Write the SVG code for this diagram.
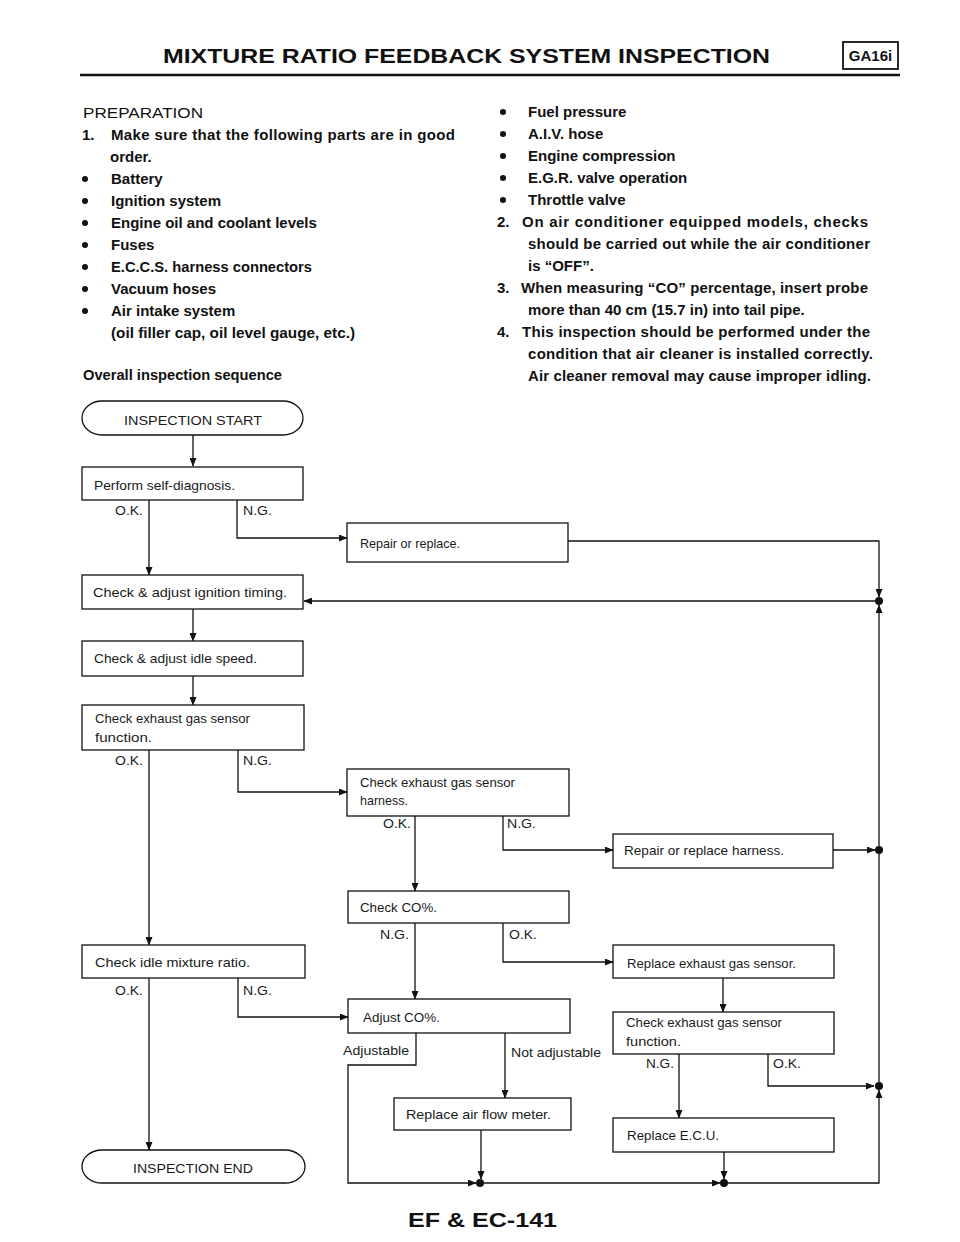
<svg xmlns="http://www.w3.org/2000/svg" width="960" height="1242" viewBox="0 0 960 1242">
<style>
.b{font-family:"Liberation Sans",Arial,sans-serif;font-weight:bold;font-size:15px;fill:#111}
.r{font-family:"Liberation Sans",Arial,sans-serif;font-size:15px;fill:#111}
.f{font-family:"Liberation Sans",Arial,sans-serif;font-size:13.5px;fill:#1a1a1a}
.box{fill:#fff;stroke:#111;stroke-width:1.3}
.ln{fill:none;stroke:#111;stroke-width:1.3}
.dot{fill:#111}
</style>
<defs>
<marker id="ah" markerWidth="9" markerHeight="7" refX="8" refY="3.5" orient="auto" markerUnits="userSpaceOnUse">
<path d="M0,0 L8.5,3.5 L0,7 z" fill="#111"/>
</marker>
</defs>
<rect width="960" height="1242" fill="#fff"/>

<g id="header">
<text x="163" y="63" class="b" style="font-size:21px" textLength="607" lengthAdjust="spacingAndGlyphs">MIXTURE RATIO FEEDBACK SYSTEM INSPECTION</text>
<rect x="843" y="42" width="55" height="27" fill="none" stroke="#111" stroke-width="1.8"/>
<text x="870.5" y="61" class="b" text-anchor="middle" style="font-size:15px">GA16i</text>
<line x1="80" y1="75" x2="900" y2="75" stroke="#111" stroke-width="2.5"/>
</g>

<g id="text-left">
<text x="83" y="118" class="r" textLength="120" lengthAdjust="spacingAndGlyphs">PREPARATION</text>
<text x="82" y="140" class="b">1.</text>
<text x="111" y="140" class="b" textLength="344" lengthAdjust="spacing">Make sure that the following parts are in good</text>
<text x="110" y="162" class="b">order.</text>
<circle cx="85" cy="179" r="3" class="dot"/><text x="111" y="184" class="b">Battery</text>
<circle cx="85" cy="201" r="3" class="dot"/><text x="111" y="206" class="b">Ignition system</text>
<circle cx="85" cy="223" r="3" class="dot"/><text x="111" y="228" class="b">Engine oil and coolant levels</text>
<circle cx="85" cy="245" r="3" class="dot"/><text x="111" y="250" class="b">Fuses</text>
<circle cx="85" cy="267" r="3" class="dot"/><text x="111" y="272" class="b" textLength="201" lengthAdjust="spacingAndGlyphs">E.C.C.S. harness connectors</text>
<circle cx="85" cy="289" r="3" class="dot"/><text x="111" y="294" class="b">Vacuum hoses</text>
<circle cx="85" cy="311" r="3" class="dot"/><text x="111" y="316" class="b">Air intake system</text>
<text x="111" y="338" class="b" textLength="244" lengthAdjust="spacingAndGlyphs">(oil filler cap, oil level gauge, etc.)</text>
<text x="83" y="380" class="b" textLength="199" lengthAdjust="spacingAndGlyphs">Overall inspection sequence</text>
</g>

<g id="text-right">
<circle cx="503" cy="112" r="3" class="dot"/><text x="528" y="117" class="b">Fuel pressure</text>
<circle cx="503" cy="134" r="3" class="dot"/><text x="528" y="139" class="b">A.I.V. hose</text>
<circle cx="503" cy="156" r="3" class="dot"/><text x="528" y="161" class="b">Engine compression</text>
<circle cx="503" cy="178" r="3" class="dot"/><text x="528" y="183" class="b">E.G.R. valve operation</text>
<circle cx="503" cy="200" r="3" class="dot"/><text x="528" y="205" class="b">Throttle valve</text>
<text x="497" y="227" class="b">2.</text>
<text x="522" y="227" class="b" textLength="346" lengthAdjust="spacing">On air conditioner equipped models, checks</text>
<text x="528" y="249" class="b" textLength="342" lengthAdjust="spacing">should be carried out while the air conditioner</text>
<text x="528" y="271" class="b">is “OFF”.</text>
<text x="497" y="293" class="b">3.</text>
<text x="521" y="293" class="b" textLength="347" lengthAdjust="spacing">When measuring “CO” percentage, insert probe</text>
<text x="528" y="315" class="b">more than 40 cm (15.7 in) into tail pipe.</text>
<text x="497" y="337" class="b">4.</text>
<text x="522" y="337" class="b" textLength="348" lengthAdjust="spacing">This inspection should be performed under the</text>
<text x="528" y="359" class="b" textLength="345" lengthAdjust="spacing">condition that air cleaner is installed correctly.</text>
<text x="528" y="381" class="b" textLength="343" lengthAdjust="spacing">Air cleaner removal may cause improper idling.</text>
</g>

<g id="connectors">
<path class="ln" d="M193,435 V466" marker-end="url(#ah)"/>
<path class="ln" d="M149,500 V575" marker-end="url(#ah)"/>
<path class="ln" d="M237,500 V538 H347" marker-end="url(#ah)"/>
<path class="ln" d="M568,541 H879 V597" marker-end="url(#ah)"/>
<path class="ln" d="M879,846 V605" marker-end="url(#ah)"/>
<path class="ln" d="M875,601 H304" marker-end="url(#ah)"/>
<path class="ln" d="M193,609 V641" marker-end="url(#ah)"/>
<path class="ln" d="M193,676 V705" marker-end="url(#ah)"/>
<path class="ln" d="M149,750 V945" marker-end="url(#ah)"/>
<path class="ln" d="M238,750 V792 H347" marker-end="url(#ah)"/>
<path class="ln" d="M415,816 V891" marker-end="url(#ah)"/>
<path class="ln" d="M503,816 V850 H613" marker-end="url(#ah)"/>
<path class="ln" d="M833,850 H875" marker-end="url(#ah)"/>
<path class="ln" d="M503,923 V962 H613" marker-end="url(#ah)"/>
<path class="ln" d="M415,923 V999" marker-end="url(#ah)"/>
<path class="ln" d="M723,978 V1012" marker-end="url(#ah)"/>
<path class="ln" d="M149,978 V1150" marker-end="url(#ah)"/>
<path class="ln" d="M238,978 V1017 H348" marker-end="url(#ah)"/>
<path class="ln" d="M416,1033 V1065 H348 V1183 H476" marker-end="url(#ah)"/>
<path class="ln" d="M505,1033 V1098" marker-end="url(#ah)"/>
<path class="ln" d="M481,1130 V1179" marker-end="url(#ah)"/>
<path class="ln" d="M484,1183 H720" marker-end="url(#ah)"/>
<path class="ln" d="M724,1152 V1179" marker-end="url(#ah)"/>
<path class="ln" d="M728,1183 H879 V1090" marker-end="url(#ah)"/>
<path class="ln" d="M679,1054 V1118" marker-end="url(#ah)"/>
<path class="ln" d="M768,1054 V1086 H874" marker-end="url(#ah)"/>
<path class="ln" d="M879,1082 V854"/>
<circle cx="879" cy="601" r="4" class="dot"/>
<circle cx="879" cy="850" r="4" class="dot"/>
<circle cx="879" cy="1086" r="4" class="dot"/>
<circle cx="480" cy="1183" r="4" class="dot"/>
<circle cx="724" cy="1183" r="4" class="dot"/>
<text x="115" y="515" class="f" textLength="28" lengthAdjust="spacingAndGlyphs">O.K.</text>
<text x="243" y="515" class="f" textLength="29" lengthAdjust="spacingAndGlyphs">N.G.</text>
<text x="115" y="765" class="f" textLength="28" lengthAdjust="spacingAndGlyphs">O.K.</text>
<text x="243" y="765" class="f" textLength="29" lengthAdjust="spacingAndGlyphs">N.G.</text>
<text x="383" y="828" class="f" textLength="28" lengthAdjust="spacingAndGlyphs">O.K.</text>
<text x="507" y="828" class="f" textLength="29" lengthAdjust="spacingAndGlyphs">N.G.</text>
<text x="380" y="939" class="f" textLength="29" lengthAdjust="spacingAndGlyphs">N.G.</text>
<text x="509" y="939" class="f" textLength="28" lengthAdjust="spacingAndGlyphs">O.K.</text>
<text x="115" y="995" class="f" textLength="28" lengthAdjust="spacingAndGlyphs">O.K.</text>
<text x="243" y="995" class="f" textLength="29" lengthAdjust="spacingAndGlyphs">N.G.</text>
<text x="343" y="1055" class="f" textLength="66" lengthAdjust="spacingAndGlyphs">Adjustable</text>
<text x="511" y="1057" class="f" textLength="90" lengthAdjust="spacingAndGlyphs">Not adjustable</text>
<text x="646" y="1068" class="f" textLength="28" lengthAdjust="spacingAndGlyphs">N.G.</text>
<text x="773" y="1068" class="f" textLength="28" lengthAdjust="spacingAndGlyphs">O.K.</text>
</g>

<g id="n-start">
<rect x="82" y="401" width="221" height="34" rx="20" ry="17" class="box"/>
<text x="124" y="425" class="f" textLength="138" lengthAdjust="spacingAndGlyphs">INSPECTION START</text>
</g>
<g id="n-selfdiag">
<rect x="82" y="467" width="221" height="33" class="box"/>
<text x="94" y="490" class="f" textLength="141" lengthAdjust="spacingAndGlyphs">Perform self-diagnosis.</text>
</g>
<g id="n-repair">
<rect x="347" y="523" width="221" height="39" class="box"/>
<text x="360" y="548" class="f" textLength="100" lengthAdjust="spacingAndGlyphs">Repair or replace.</text>
</g>
<g id="n-ignition">
<rect x="82" y="575" width="221" height="34" class="box"/>
<text x="93" y="597" class="f" textLength="194" lengthAdjust="spacingAndGlyphs">Check &amp; adjust ignition timing.</text>
</g>
<g id="n-idle">
<rect x="82" y="641" width="221" height="35" class="box"/>
<text x="94" y="663" class="f" textLength="163" lengthAdjust="spacingAndGlyphs">Check &amp; adjust idle speed.</text>
</g>
<g id="n-egs-func">
<rect x="82" y="705" width="222" height="45" class="box"/>
<text x="95" y="723" class="f" textLength="155" lengthAdjust="spacingAndGlyphs">Check exhaust gas sensor</text>
<text x="95" y="742" class="f" textLength="57" lengthAdjust="spacingAndGlyphs">function.</text>
</g>
<g id="n-harness">
<rect x="347" y="769" width="222" height="47" class="box"/>
<text x="360" y="787" class="f" textLength="155" lengthAdjust="spacingAndGlyphs">Check exhaust gas sensor</text>
<text x="360" y="805" class="f" textLength="48" lengthAdjust="spacingAndGlyphs">harness.</text>
</g>
<g id="n-repair-harness">
<rect x="613" y="834" width="220" height="34" class="box"/>
<text x="624" y="855" class="f" textLength="160" lengthAdjust="spacingAndGlyphs">Repair or replace harness.</text>
</g>
<g id="n-co">
<rect x="348" y="891" width="221" height="32" class="box"/>
<text x="360" y="912" class="f" textLength="77" lengthAdjust="spacingAndGlyphs">Check CO%.</text>
</g>
<g id="n-replace-egs">
<rect x="613" y="945" width="221" height="33" class="box"/>
<text x="627" y="968" class="f" textLength="169" lengthAdjust="spacingAndGlyphs">Replace exhaust gas sensor.</text>
</g>
<g id="n-mixture">
<rect x="82" y="945" width="223" height="33" class="box"/>
<text x="95" y="967" class="f" textLength="155" lengthAdjust="spacingAndGlyphs">Check idle mixture ratio.</text>
</g>
<g id="n-adjust-co">
<rect x="348" y="999" width="222" height="34" class="box"/>
<text x="363" y="1022" class="f" textLength="77" lengthAdjust="spacingAndGlyphs">Adjust CO%.</text>
</g>
<g id="n-egs-func2">
<rect x="613" y="1012" width="221" height="42" class="box"/>
<text x="626" y="1027" class="f" textLength="156" lengthAdjust="spacingAndGlyphs">Check exhaust gas sensor</text>
<text x="626" y="1046" class="f" textLength="55" lengthAdjust="spacingAndGlyphs">function.</text>
</g>
<g id="n-afm">
<rect x="394" y="1098" width="177" height="32" class="box"/>
<text x="406" y="1119" class="f" textLength="145" lengthAdjust="spacingAndGlyphs">Replace air flow meter.</text>
</g>
<g id="n-ecu">
<rect x="613" y="1118" width="221" height="34" class="box"/>
<text x="627" y="1140" class="f" textLength="92" lengthAdjust="spacingAndGlyphs">Replace E.C.U.</text>
</g>
<g id="n-end">
<rect x="82" y="1150" width="223" height="33" rx="20" ry="16.5" class="box"/>
<text x="133" y="1173" class="f" textLength="120" lengthAdjust="spacingAndGlyphs">INSPECTION END</text>
</g>

<g id="footer">
<text x="408" y="1227" class="b" style="font-size:21px" textLength="149" lengthAdjust="spacingAndGlyphs">EF &amp; EC-141</text>
</g>
</svg>
